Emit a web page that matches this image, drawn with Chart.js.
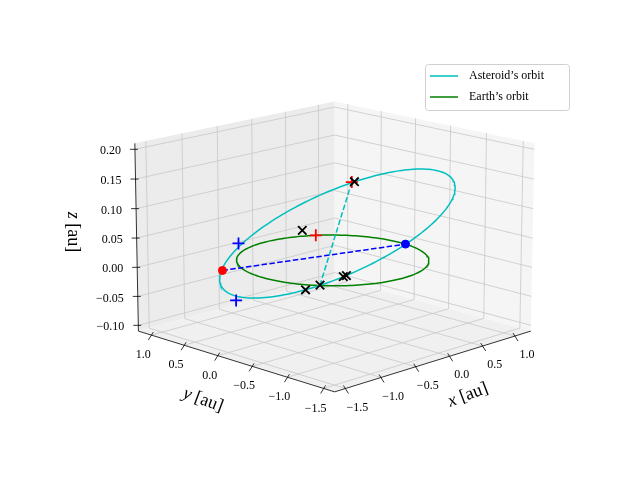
<!DOCTYPE html>
<html><head><meta charset="utf-8">
<script src="https://cdn.jsdelivr.net/npm/chart.js@4/dist/chart.umd.min.js"></script>
<style>html,body{margin:0;padding:0;background:#fff}#wrap{width:640px;height:480px}</style>
</head><body><div id="wrap"><canvas id="c" width="640" height="480"></canvas></div>
<script>
// ---- data (3D, au) ----
const xTicks = [-1.5, -1.0, -0.5, 0.0, 0.5, 1.0];
const yTicks = [-1.5, -1.0, -0.5, 0.0, 0.5, 1.0];
const zTicks = [-0.10, -0.05, 0.00, 0.05, 0.10, 0.15, 0.20];
const xLim = [-1.65, 1.25], yLim = [-1.65, 1.2], zLim = [-0.11, 0.21];
// Earth orbit: circle radius 1 au in ecliptic
const earthRadius = 1.0;
// Asteroid orbit: centre + two conjugate semi-axis vectors
const astCentre = [0.05, 0.0, 0.045];
const astAxisA = [0.85, -0.85, 0.092];
const astAxisB = [0.55, 0.85, 0.021];
const redDot = [-0.57, 1.07, -0.035];
const blueDot = [0.995, -0.105, 0.0];
const astTop = [0.84, 0.54, 0.095];
const astFront = [-0.736, -0.545, -0.003];
const redPlus = [[0.84, 0.54, 0.095], [0.574, 0.819, 0.0]];
const bluePlus = [[-0.57, 0.82, 0.02], [-1.0, 0.41, -0.052]];
const blackX = [[0.87, 0.53, 0.095], [0.45, 0.9, 0.01], [-0.808, -0.41, -0.013], [-0.736, -0.545, -0.003], [-0.60, -0.74, 0.013], [-0.579, -0.764, 0.015]];
const legendLabels = ["Asteroid\u2019s orbit", "Earth\u2019s orbit"];

// ---- projection ----
const elev = 15 * Math.PI / 180, K = 287, CX = 335, CY = 238, DIST = 10;
const ce = Math.cos(elev), se = Math.sin(elev), r2 = Math.SQRT1_2;
function proj(p) {
  const X = (p[0] - (xLim[0] + xLim[1]) / 2) / (xLim[1] - xLim[0]);
  const Y = (p[1] - (yLim[0] + yLim[1]) / 2) / (yLim[1] - yLim[0]);
  const Z = (p[2] - (zLim[0] + zLim[1]) / 2) / (zLim[1] - zLim[0]) * 0.70;
  const w = -r2 * ce * (X + Y) + se * Z;
  const s = DIST / (DIST - w);
  return { x: r2 * (X - Y) * s, y: (r2 * se * (X + Y) + ce * Z) * s };
}
const N = 200;
const earthPts = [], astPts = [];
for (let i = 0; i <= N; i++) {
  const t = 2 * Math.PI * i / N;
  earthPts.push(proj([earthRadius * Math.cos(t), earthRadius * Math.sin(t), 0]));
  const c = Math.cos(t), s = Math.sin(t);
  astPts.push(proj([0, 1, 2].map(k => astCentre[k] + astAxisA[k] * c + astAxisB[k] * s)));
}
const font = "'Liberation Serif', 'DejaVu Serif', serif";
const fmt = v => (v < 0 ? "\u2212" : "") + Math.abs(v).toFixed(2);
const fmt1 = v => (v < 0 ? "\u2212" : "") + Math.abs(v).toFixed(1);

const scene = {
  id: 'scene',
  beforeDatasetsDraw(chart) {
    const ctx = chart.ctx, sx = chart.scales.x, sy = chart.scales.y;
    const P = p => { const q = proj(p); return [sx.getPixelForValue(q.x), sy.getPixelForValue(q.y)]; };
    const poly = (pts, fill) => { ctx.beginPath(); pts.forEach((p, i) => { const q = P(p); i ? ctx.lineTo(q[0], q[1]) : ctx.moveTo(q[0], q[1]); }); ctx.closePath(); ctx.fillStyle = fill; ctx.fill(); };
    const line = (a, b, col, w) => { const p = P(a), q = P(b); ctx.beginPath(); ctx.moveTo(p[0], p[1]); ctx.lineTo(q[0], q[1]); ctx.strokeStyle = col; ctx.lineWidth = w; ctx.stroke(); };
    const [x0, x1] = xLim, [y0, y1] = yLim, [z0, z1] = zLim;
    ctx.save();
    poly([[x0, y1, z0], [x1, y1, z0], [x1, y1, z1], [x0, y1, z1]], '#ececec');
    poly([[x1, y0, z0], [x1, y1, z0], [x1, y1, z1], [x1, y0, z1]], '#f5f5f5');
    poly([[x0, y0, z0], [x1, y0, z0], [x1, y1, z0], [x0, y1, z0]], '#f0f0f0');
    const g = '#c8c8c8';
    xTicks.forEach(v => { line([v, y1, z0], [v, y1, z1], g, 0.8); line([v, y0, z0], [v, y1, z0], g, 0.8); });
    yTicks.forEach(v => { line([x1, v, z0], [x1, v, z1], g, 0.8); line([x0, v, z0], [x1, v, z0], g, 0.8); });
    zTicks.forEach(v => { line([x0, y1, v], [x1, y1, v], g, 0.8); line([x1, y0, v], [x1, y1, v], g, 0.8); });
    line([x0, y1, z0], [x0, y1, z1], '#000', 0.8);
    line([x0, y0, z0], [x0, y1, z0], '#000', 0.8);
    line([x0, y0, z0], [x1, y0, z0], '#000', 0.8);
    ctx.fillStyle = '#000'; ctx.font = "12px " + font; ctx.strokeStyle = '#000'; ctx.lineWidth = 0.8;
    ctx.textAlign = 'right'; ctx.textBaseline = 'middle';
    zTicks.forEach(v => { const p = P([x0, y1, v]); ctx.beginPath(); ctx.moveTo(p[0] - 5, p[1]); ctx.lineTo(p[0] + 3, p[1]); ctx.stroke(); ctx.fillText(fmt(v), p[0] - 14, p[1] + 2); });
    ctx.textAlign = 'center';
    yTicks.forEach(v => { const p = P([x0, v, z0]); ctx.beginPath(); ctx.moveTo(p[0] - 3, p[1] + 5); ctx.lineTo(p[0] + 2, p[1] - 3); ctx.stroke(); ctx.fillText(fmt1(v), p[0] - 8, p[1] + 20); });
    xTicks.forEach(v => { const p = P([v, y0, z0]); ctx.beginPath(); ctx.moveTo(p[0] + 3, p[1] + 5); ctx.lineTo(p[0] - 2, p[1] - 3); ctx.stroke(); ctx.fillText(fmt1(v), p[0] + 12, p[1] + 19); });
    const lab = (cx, cy, rot, v) => {
      ctx.save(); ctx.translate(cx, cy); ctx.rotate(rot); ctx.textBaseline = 'middle';
      ctx.font = "italic 18px " + font; const w1 = ctx.measureText(v).width;
      ctx.font = "18px " + font; const w2 = ctx.measureText(" [au]").width;
      const st = -(w1 + w2) / 2; ctx.textAlign = 'left';
      ctx.font = "italic 18px " + font; ctx.fillText(v, st, 0);
      ctx.font = "18px " + font; ctx.fillText(" [au]", st + w1, 0);
      ctx.restore();
    };
    lab(468, 395, -0.36, 'x'); lab(203, 400, 0.36, 'y'); lab(73, 232, Math.PI / 2, 'z');
    ctx.restore();
  },
  afterDatasetsDraw(chart) {
    const ctx = chart.ctx;
    ctx.save();
    ctx.beginPath(); ctx.roundRect(425.5, 64.5, 144, 46, 3); ctx.fillStyle = 'rgba(255,255,255,0.8)'; ctx.fill();
    ctx.strokeStyle = '#d0d0d0'; ctx.lineWidth = 1; ctx.stroke();
    const cols = ['#00bfbf', '#008000'];
    legendLabels.forEach((t, i) => {
      const y = 76 + i * 21;
      ctx.beginPath(); ctx.moveTo(430, y); ctx.lineTo(458, y); ctx.strokeStyle = cols[i]; ctx.lineWidth = 1.5; ctx.stroke();
      ctx.fillStyle = '#000'; ctx.font = "12px " + font; ctx.textBaseline = 'middle'; ctx.textAlign = 'left';
      ctx.fillText(t, 469, y);
    });
    ctx.restore();
  }
};

const mk = (pts, style, col, r, w, order) => ({ order, data: pts.map(proj), showLine: false, pointStyle: style, pointRadius: r, pointBorderColor: col, pointBackgroundColor: col, pointBorderWidth: w });
new Chart(document.getElementById('c'), {
  type: 'scatter',
  data: { datasets: [
    { order: 9, label: legendLabels[1], data: earthPts, showLine: true, borderColor: '#008000', borderWidth: 1.5, pointRadius: 0, tension: 0 },
    { order: 8, label: legendLabels[0], data: astPts, showLine: true, borderColor: '#00bfbf', borderWidth: 1.5, pointRadius: 0, tension: 0 },
    { order: 7, data: [proj(redDot), proj(blueDot)], showLine: true, borderColor: '#0000ff', borderWidth: 1.5, borderDash: [5.5, 2.4], pointRadius: 0 },
    { order: 6, data: [proj(astTop), proj(astFront)], showLine: true, borderColor: '#00bfbf', borderWidth: 1.5, borderDash: [5.5, 2.4], pointRadius: 0 },
    mk([redDot], 'circle', '#ff0000', 4, 1, 5),
    mk([blueDot], 'circle', '#0000ff', 4, 1, 4),
    mk(redPlus, 'cross', '#ff0000', 6, 1.8, 3),
    mk(bluePlus, 'cross', '#0000ff', 6, 1.8, 2),
    mk(blackX, 'crossRot', '#000000', 6, 1.8, 1)
  ]},
  options: {
    responsive: false, animation: false, events: [],
    layout: { padding: 0 },
    plugins: { legend: { display: false }, tooltip: { enabled: false } },
    scales: {
      x: { type: 'linear', display: false, min: -CX / K, max: (640 - CX) / K },
      y: { type: 'linear', display: false, min: -(480 - CY) / K, max: CY / K }
    }
  },
  plugins: [scene]
});
</script></body></html>
